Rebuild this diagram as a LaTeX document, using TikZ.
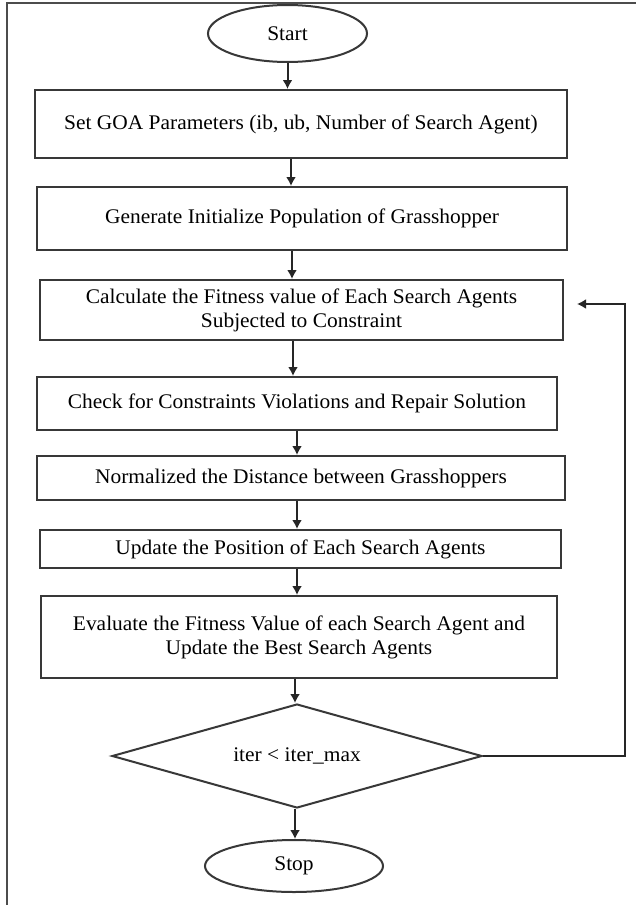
\documentclass[tikz,border=0pt]{standalone}
\usepackage{fontspec}
\setmainfont{Liberation Serif}[FakeStretch=1.03]
\usetikzlibrary{shapes.geometric,arrows.meta}
\begin{document}
\begin{tikzpicture}[x=1pt,y=-1pt,
  ln/.style={draw=black!78,line width=2pt},
  procbox/.style={ln,rectangle,inner sep=0pt,align=center,font=\fontsize{20.8}{24}\selectfont},
  term/.style={ln,ellipse,inner sep=0pt,font=\fontsize{20.8}{24}\selectfont},
  decision/.style={ln,diamond,aspect=3.5,inner sep=0pt,font=\fontsize{20.8}{24}\selectfont},
  arr/.style={draw=black!85,line width=2pt,-{Latex[length=9pt,width=10pt]}}]
\useasboundingbox (0,0) rectangle (636,905);
\fill[white] (0,0) rectangle (636,905);
% frame (top and left edges only)
\draw[draw=black!70,line width=1.6pt] (7,905) -- (7,3) -- (636,3);

\node[term,minimum width=159pt,minimum height=57pt] (start) at (287.5,33.5) {Start};
\node[procbox,minimum width=532pt,minimum height=68pt] (set) at (301,124) {Set GOA Parameters (ib, ub, Number of Search Agent)};
\node[procbox,minimum width=530pt,minimum height=63pt] (gen) at (302,218.5) {Generate Initialize Population of Grasshopper};
\node[procbox,minimum width=523pt,minimum height=60pt] (calc) at (301.5,310) {Calculate the Fitness value of Each Search Agents\\Subjected to Constraint};
\node[procbox,minimum width=520pt,minimum height=53pt] (check) at (297,403.5) {Check for Constraints Violations and Repair Solution};
\node[procbox,minimum width=528pt,minimum height=44pt] (norm) at (301,478) {Normalized the Distance between Grasshoppers};
\node[procbox,minimum width=521pt,minimum height=38pt] (upd) at (300.5,549) {Update the Position of Each Search Agents};
\node[procbox,minimum width=516pt,minimum height=82pt] (eval) at (299,637) {Evaluate the Fitness Value of each Search Agent and\\Update the Best Search Agents};
\node[decision,minimum width=370pt,minimum height=104pt] (dec) at (297,756) {iter < iter\_max};
\node[term,minimum width=178pt,minimum height=52pt] (stop) at (294,866) {Stop};

% arrow x positions
\coordinate (a1) at (291,0);
\coordinate (a2) at (292,0);
\coordinate (a3) at (293,0);
\coordinate (a4) at (297,0);
\coordinate (a5) at (295,0);
\coordinate (fbR) at (625,0);
\coordinate (fbEnd) at (577,304);

\draw[arr] (start.south) -- (start.south |- set.north);
\draw[arr] (set.south -| a1) -- (gen.north -| a1);
\draw[arr] (gen.south -| a2) -- (calc.north -| a2);
\draw[arr] (calc.south -| a3) -- (check.north -| a3);
\draw[arr] (check.south -| a4) -- (norm.north -| a4);
\draw[arr] (norm.south -| a4) -- (upd.north -| a4);
\draw[arr] (upd.south -| a4) -- (eval.north -| a4);
\draw[arr] (eval.south -| a5) -- (dec.north -| a5);
\draw[arr] (dec.south -| a5) -- (stop.north -| a5);
\draw[arr] (dec.east) -- (dec.east -| fbR) -- (fbR |- fbEnd) -- (fbEnd);
\end{tikzpicture}
\end{document}
